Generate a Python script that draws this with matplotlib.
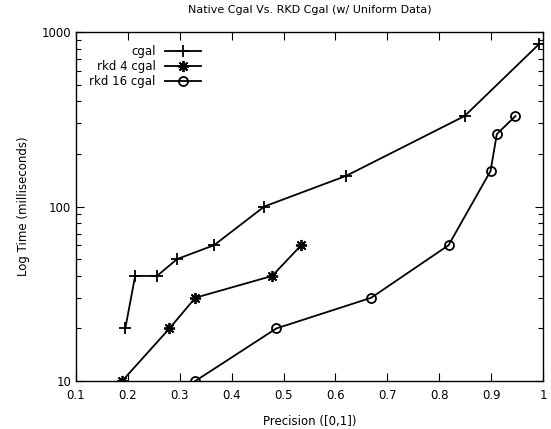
import numpy as np
import matplotlib.pyplot as plt
from matplotlib.ticker import FixedLocator, LogLocator, NullFormatter

# cgal
cgal_x = [0.195, 0.214, 0.256, 0.295, 0.366, 0.463, 0.621, 0.849, 0.992]
cgal_y = [20, 40, 40, 50, 60, 100, 150, 330, 850]

# rkd 4 cgal
rkd4_x = [0.189, 0.280, 0.330, 0.478, 0.534]
rkd4_y = [10, 20, 30, 40, 60]

# rkd 16 cgal
rkd16_x = [0.330, 0.486, 0.669, 0.818, 0.899, 0.911, 0.947]
rkd16_y = [10, 20, 30, 60, 160, 260, 330]

xticks = [0.1, 0.2, 0.3, 0.4, 0.5, 0.6, 0.7, 0.8, 0.9, 1]
xticklabels = ['0.1', '0.2', '0.3', '0.4', '0.5', '0.6', '0.7', '0.8', '0.9', '1']
yticks = [10, 100, 1000]

fig = plt.figure(figsize=(5.51, 4.29), dpi=100)
ax = fig.add_axes([76/551, 1-381/429, (543-76)/551, (381-32)/429])

ax.plot(cgal_x, cgal_y, color='black', lw=1.3, marker='+', ms=8, mew=1.3, label='cgal')
ax.plot(rkd4_x, rkd4_y, color='black', lw=1.3, marker=(8, 2, 0), ms=8, mew=1.3, label='rkd 4 cgal')
ax.plot(rkd16_x, rkd16_y, color='black', lw=1.3, marker='o', ms=6.5, mew=1.3,
        fillstyle='none', label='rkd 16 cgal')

ax.set_yscale('log')
ax.set_xlim(0.1, 1)
ax.set_ylim(10, 1000)
ax.xaxis.set_major_locator(FixedLocator(xticks))
ax.set_xticklabels(xticklabels)
ax.yaxis.set_major_locator(FixedLocator(yticks))
ax.set_yticklabels([str(v) for v in yticks])
ax.yaxis.set_minor_locator(LogLocator(base=10, subs=np.arange(2, 10)))
ax.yaxis.set_minor_formatter(NullFormatter())

ax.tick_params(which='both', direction='in', top=True, right=True, labelsize=8.5, colors='black')
ax.tick_params(which='major', length=6, width=0.8)
ax.tick_params(which='minor', length=3.5, width=0.8)
ax.tick_params(axis='x', pad=6)
for s in ax.spines.values():
    s.set_linewidth(1.0)

ax.set_xlabel('Precision ([0,1])', fontsize=8.5, labelpad=9)
ax.set_ylabel('Log Time (milliseconds)', fontsize=8.5, labelpad=8)
ax.set_title('Native Cgal Vs. RKD Cgal (w/ Uniform Data)', fontsize=8, pad=14)

leg = ax.legend(loc='upper left', markerfirst=False, frameon=False, fontsize=8.5,
                handlelength=3.0, handletextpad=0.8, labelspacing=0.15, borderaxespad=0.3,
                bbox_to_anchor=(0.011, 0.986))
for col in leg._legend_handle_box.get_children():
    col.align = 'right'

fig.savefig('out.png', dpi=100)
